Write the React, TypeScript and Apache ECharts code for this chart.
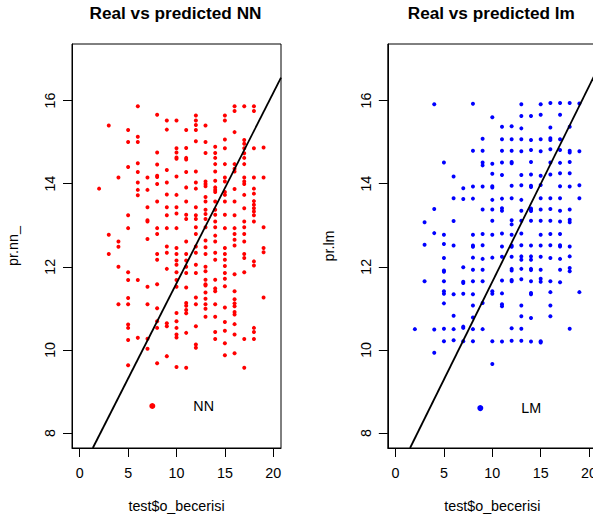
import React, { useEffect, useRef } from "react";
import * as echarts from "echarts";

const X_TICKS = [0, 5, 10, 15, 20];
const Y_TICKS = [8, 10, 12, 14, 16];
const X_MIN = -0.8;
const X_MAX = 20.8;
const Y_MIN = 7.64;
const Y_MAX = 17.36;

const TITLES = ["Real vs predicted NN", "Real vs predicted lm"];
const Y_NAMES = ["pr.nn_", "pr.lm"];
const X_NAME = "test$o_becerisi";
const LEGEND_LABELS = ["NN", "LM"];
const LEGEND_POINTS: [number, number][] = [
  [7.5, 8.65],
  [8.76, 8.6],
];

// abline end points, as read where the line meets the plot frame
const NN_LINE: [number, number][] = [
  [1.35, 7.64],
  [20.8, 16.55],
];
const LM_LINE: [number, number][] = [
  [1.5, 7.64],
  [20.8, 16.72],
];

// predicted values of the NN model, grouped by the real value (x)
const NN_X2 = [13.88];
const NN_X3 = [15.4, 12.77, 12.31];
const NN_X4 = [14.15, 12.61, 12.48, 12.0, 11.1];
const NN_X5 = [15.29, 15.0, 14.4, 13.24, 12.93, 11.87, 11.68, 11.25, 11.1, 10.61, 10.53, 10.24, 9.63];
const NN_X6 = [15.86, 15.13, 15.0, 14.49, 14.28, 14.03, 13.85, 13.72, 11.68, 10.29];
const NN_X7 = [14.15, 13.85, 13.43, 13.09, 13.12, 12.67, 11.52, 11.1, 10.27, 10.03];
const NN_X8 = [15.66, 14.75, 14.46, 14.16, 14.19, 13.99, 13.57, 12.93, 12.79, 12.31, 12.17, 11.58, 11.0, 10.69, 10.53, 9.68];
const NN_X9 = [15.52, 15.3, 14.33, 14.03, 13.74, 13.43, 13.24, 12.93, 12.49, 12.34, 11.95, 10.64, 10.57, 9.85];
const NN_X10 = [15.52, 14.85, 14.75, 14.6, 14.63, 14.17, 13.73, 13.43, 13.28, 12.93, 12.45, 12.31, 12.15, 12.05, 11.87, 11.68, 11.52, 10.89, 10.69, 10.53, 10.37, 10.3, 9.59];
const NN_X11 = [15.29, 14.86, 14.62, 14.58, 14.28, 13.91, 13.57, 13.25, 13.15, 12.61, 12.31, 12.15, 12.0, 11.85, 11.5, 11.13, 11.06, 10.96, 10.88, 10.41, 9.57];
const NN_X12 = [15.64, 15.52, 15.41, 15.29, 15.02, 14.29, 14.03, 13.88, 13.43, 13.24, 13.15, 12.95, 12.79, 12.49, 12.34, 12.05, 11.85, 11.26, 11.1, 10.57, 10.13, 10.05];
const NN_X13 = [15.4, 15.0, 14.74, 14.05, 13.99, 13.94, 13.68, 13.57, 13.37, 13.27, 13.15, 12.95, 12.63, 12.47, 12.31, 12.0, 11.89, 11.69, 11.58, 11.55, 11.38, 11.23, 11.1, 10.99, 10.8];
const NN_X14 = [14.89, 14.74, 14.62, 14.47, 14.29, 14.07, 13.91, 13.85, 13.8, 13.57, 13.37, 13.25, 13.09, 12.95, 12.75, 12.61, 12.34, 12.17, 11.69, 11.48, 11.41, 11.1, 10.8, 10.43, 10.26];
const NN_X15 = [15.64, 15.52, 15.06, 14.85, 14.47, 14.15, 14.05, 13.8, 13.73, 13.57, 13.25, 12.93, 12.45, 12.31, 12.17, 12.02, 11.85, 11.71, 11.53, 11.02, 10.67, 10.46, 10.16, 9.87];
const NN_X16 = [15.86, 15.75, 15.24, 14.47, 14.36, 14.29, 13.87, 13.57, 13.24, 12.93, 12.79, 12.65, 12.51, 11.82, 11.41, 11.22, 11.12, 11.05, 10.91, 10.85, 10.62, 10.37, 9.92];
const NN_X17 = [15.86, 15.05, 14.96, 14.85, 14.73, 14.62, 14.47, 14.15, 14.05, 13.99, 13.73, 13.41, 13.09, 12.95, 12.79, 12.61, 12.31, 12.21, 11.87, 10.26, 9.57];
const NN_X18 = [15.86, 15.75, 14.85, 14.15, 13.88, 13.76, 13.58, 13.49, 13.41, 13.33, 13.24, 13.09, 12.13, 12.03, 10.53, 10.43, 10.26];
const NN_X19 = [14.87, 14.15, 12.95, 12.45, 12.35, 11.26];

// predicted values of the linear model, grouped by the real value (x)
const LM_X2 = [10.5];
const LM_X3 = [13.07, 12.53, 11.65];
const LM_X4 = [15.91, 13.39, 12.81, 10.49, 9.93];
const LM_X5 = [14.51, 12.77, 12.55, 12.21, 11.91, 11.88, 11.65, 11.41, 11.35, 11.12, 10.51, 10.21];
const LM_X6 = [14.17, 13.65, 13.1, 12.51, 11.34, 10.82, 10.5, 10.23];
const LM_X7 = [13.89, 13.63, 11.99, 11.64, 11.61, 11.35, 10.53, 10.56, 10.21];
const LM_X8 = [15.92, 14.79, 13.93, 13.64, 12.77, 12.51, 12.48, 12.22, 11.93, 11.65, 11.34, 11.07, 10.78, 10.5, 10.21];
const LM_X9 = [15.08, 14.79, 14.51, 14.44, 13.93, 13.38, 12.79, 12.52, 12.19, 11.93, 11.65, 11.13, 10.5];
const LM_X10 = [15.6, 14.48, 14.24, 13.94, 13.91, 13.61, 13.38, 13.11, 12.77, 12.22, 11.41, 11.35, 10.21, 9.66];
const LM_X11 = [15.37, 15.07, 14.79, 14.51, 14.21, 13.64, 13.41, 13.35, 12.8, 12.49, 12.24, 11.67, 11.36, 11.1, 11.05, 10.2];
const LM_X12 = [15.38, 15.07, 14.79, 14.52, 14.49, 13.95, 13.65, 13.12, 13.02, 12.77, 12.51, 12.48, 12.24, 11.95, 11.91, 11.68, 11.65, 10.52, 10.22];
const LM_X13 = [15.91, 15.63, 15.33, 15.07, 14.78, 14.21, 13.96, 13.61, 13.35, 13.11, 12.8, 12.52, 12.25, 12.17, 11.95, 11.7, 11.07, 10.81, 10.51, 10.22];
const LM_X14 = [15.63, 15.05, 14.81, 14.52, 14.22, 13.95, 13.92, 13.4, 13.37, 13.34, 13.11, 12.51, 12.25, 12.17, 11.95, 11.92, 11.65, 11.37, 11.34, 10.77, 10.2];
const LM_X15 = [15.91, 15.66, 15.07, 14.78, 14.19, 13.97, 13.65, 13.38, 13.11, 12.77, 12.51, 12.24, 11.93, 11.71, 11.64, 10.21, 10.18];
const LM_X16 = [15.94, 15.35, 15.09, 15.05, 14.83, 14.51, 14.22, 13.65, 13.39, 13.11, 12.79, 12.52, 12.21, 11.65, 11.39, 11.07, 10.81];
const LM_X17 = [15.94, 15.66, 15.07, 14.81, 14.5, 14.25, 13.94, 13.65, 13.35, 13.09, 12.79, 12.52, 12.49, 12.19, 11.93, 11.63];
const LM_X18 = [15.94, 15.37, 14.79, 14.75, 14.52, 14.25, 13.93, 13.38, 13.13, 13.07, 12.49, 12.25, 11.97, 11.89, 10.51];
const LM_X19 = [15.93, 14.78, 13.96, 13.65, 11.39];

const NN_COLUMNS: [number, number[]][] = [
  [2, NN_X2], [3, NN_X3], [4, NN_X4], [5, NN_X5], [6, NN_X6], [7, NN_X7], [8, NN_X8],
  [9, NN_X9], [10, NN_X10], [11, NN_X11], [12, NN_X12], [13, NN_X13], [14, NN_X14],
  [15, NN_X15], [16, NN_X16], [17, NN_X17], [18, NN_X18], [19, NN_X19],
];
const LM_COLUMNS: [number, number[]][] = [
  [2, LM_X2], [3, LM_X3], [4, LM_X4], [5, LM_X5], [6, LM_X6], [7, LM_X7], [8, LM_X8],
  [9, LM_X9], [10, LM_X10], [11, LM_X11], [12, LM_X12], [13, LM_X13], [14, LM_X14],
  [15, LM_X15], [16, LM_X16], [17, LM_X17], [18, LM_X18], [19, LM_X19],
];

const toPoints = (cols: [number, number[]][]) =>
  cols.flatMap(([x, ys]) => ys.map((y) => [x, y]));

const FONT = '"Liberation Sans", Arial, Helvetica, sans-serif';
const BASE = 14.3;

const GRIDS = [
  { left: 72, top: 44, width: 209, height: 404 },
  { left: 387.8, top: 44, width: 209, height: 404 },
];

function makeXAxis(i: number) {
  return {
    type: "value",
    gridIndex: i,
    min: X_MIN,
    max: X_MAX,
    splitLine: { show: false },
    axisLine: { show: true, onZero: false, lineStyle: { color: "#000", width: 1 } },
    axisTick: { show: true, inside: false, length: 9, customValues: X_TICKS, lineStyle: { color: "#000", width: 1 } },
    axisLabel: { customValues: X_TICKS, margin: 18, color: "#000", fontSize: BASE, fontFamily: FONT },
    name: X_NAME,
    nameLocation: "middle",
    nameGap: 51,
    nameTextStyle: { color: "#000", fontSize: BASE, fontFamily: FONT },
  };
}

function makeYAxis(i: number) {
  return {
    type: "value",
    gridIndex: i,
    min: Y_MIN,
    max: Y_MAX,
    splitLine: { show: false },
    axisLine: { show: true, onZero: false, lineStyle: { color: "#000", width: 1 } },
    axisTick: { show: true, inside: false, length: 9, customValues: Y_TICKS, lineStyle: { color: "#000", width: 1 } },
    axisLabel: { customValues: Y_TICKS, rotate: 90, margin: 15, color: "#000", fontSize: BASE, fontFamily: FONT },
    name: Y_NAMES[i],
    nameLocation: "middle",
    nameGap: 52,
    nameTextStyle: { color: "#000", fontSize: BASE, fontFamily: FONT },
  };
}

export default function App() {
  const ref = useRef<HTMLDivElement>(null);
  useEffect(() => {
    if (!ref.current) return;
    const chart = echarts.init(ref.current, null, { renderer: "svg" });
    const colors = ["#ff0000", "#0000ff"];
    const pointSets = [toPoints(NN_COLUMNS), toPoints(LM_COLUMNS)];
    const lines = [NN_LINE, LM_LINE];
    const series: any[] = [];
    for (let i = 0; i < 2; i++) {
      series.push({
        type: "scatter",
        xAxisIndex: i,
        yAxisIndex: i,
        data: pointSets[i],
        symbol: "circle",
        symbolSize: 4,
        itemStyle: { color: colors[i], opacity: 1 },
        silent: true,
        z: 2,
      });
      series.push({
        type: "line",
        xAxisIndex: i,
        yAxisIndex: i,
        data: lines[i],
        showSymbol: false,
        symbol: "none",
        clip: true,
        lineStyle: { color: "#000", width: 1.8 },
        silent: true,
        z: 3,
      });
      series.push({
        type: "scatter",
        xAxisIndex: i,
        yAxisIndex: i,
        data: [LEGEND_POINTS[i]],
        symbol: "circle",
        symbolSize: 6,
        itemStyle: { color: colors[i], opacity: 1 },
        silent: true,
        label: {
          show: true,
          position: "right",
          distance: 38,
          formatter: LEGEND_LABELS[i],
          color: "#000",
          fontSize: BASE,
          fontFamily: FONT,
        },
        z: 3,
      });
    }
    const centers = [GRIDS[0].left + GRIDS[0].width / 2, GRIDS[1].left + GRIDS[1].width / 2];
    chart.setOption({
      animation: false,
      backgroundColor: "#fff",
      grid: GRIDS.map((g) => ({
        ...g,
        show: true,
        containLabel: false,
        outerBoundsMode: "none",
        borderColor: "#000",
        borderWidth: 1,
        backgroundColor: "transparent",
      })),
      xAxis: [makeXAxis(0), makeXAxis(1)],
      yAxis: [makeYAxis(0), makeYAxis(1)],
      series,
      graphic: TITLES.map((t, i) => ({
        type: "text",
        x: centers[i] - 1,
        y: 12.5,
        style: {
          text: t,
          fill: "#000",
          font: `bold 17.2px ${FONT}`,
          align: "center",
          verticalAlign: "middle",
          textAlign: "center",
          textVerticalAlign: "middle",
        },
      })),
    });
    return () => chart.dispose();
  }, []);
  return (
    <div
      ref={ref}
      style={{ position: "absolute", left: 0, top: 0, width: 593, height: 515 }}
    />
  );
}
